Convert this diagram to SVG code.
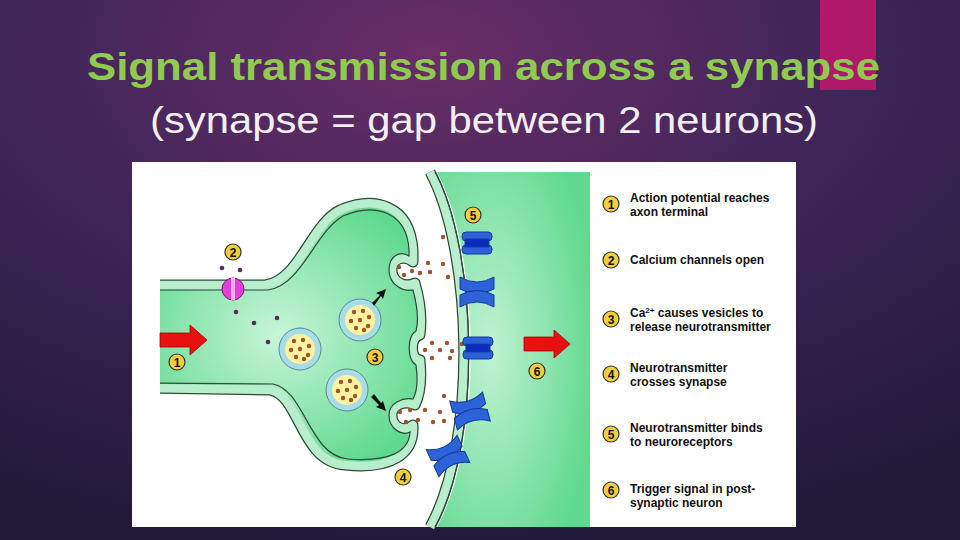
<svg xmlns="http://www.w3.org/2000/svg" width="960" height="540" viewBox="0 0 960 540">
<defs>
<radialGradient id="bg" cx="0.45" cy="0.1" r="0.9"><stop offset="0" stop-color="#6a2d68"/><stop offset="0.5" stop-color="#3d2558"/><stop offset="1" stop-color="#231a3a"/></radialGradient>
<radialGradient id="cell" cx="0.5" cy="0.5" r="0.6"><stop offset="0" stop-color="#c8f5d8"/><stop offset="1" stop-color="#5fd98f"/></radialGradient>
<radialGradient id="cell2" cx="0.35" cy="0.5" r="0.7"><stop offset="0" stop-color="#c0f2d2"/><stop offset="1" stop-color="#5fd98f"/></radialGradient>
<clipPath id="cp"><rect x="160" y="162" width="440" height="365"/></clipPath>
<g id="H"><rect x="-15" y="-11" width="30" height="9" rx="4"/><rect x="-15" y="2" width="30" height="9" rx="4"/><rect x="-12" y="-4" width="24" height="8" fill="#0a2fc0"/></g>
<g id="X"><path d="M-17,-15 Q0,-5 17,-15 L17,-3 Q0,6 -17,-3Z"/><path d="M-17,15 Q0,5 17,15 L17,3 Q0,-6 -17,3Z"/></g>
</defs>
<style>
.mb{stroke:#2d4a3a;stroke-width:11;stroke-linejoin:round}
.mi{stroke:#b8eecb;stroke-width:8.5;stroke-linejoin:round}
.rc{fill:#2d62d8;stroke:#123a9a;stroke-width:1}
.nt{fill:#a0522d}
.ca{fill:#5a2a58}
.bd circle{fill:#f2cf3a;stroke:#333;stroke-width:1.2}
.bd text{font-family:"Liberation Sans",Arial,sans-serif;font-weight:bold;font-size:12px;text-anchor:middle;fill:#111}
.lg text{font-family:"Liberation Sans",Arial,sans-serif;font-weight:bold;font-size:12px;fill:#111}
</style>
<rect width="960" height="540" fill="url(#bg)"/>
<rect x="820" y="0" width="56" height="90" fill="#b0186a"/>
<text x="87" y="80" font-family="Liberation Sans,Arial,sans-serif" font-weight="bold" font-size="38" fill="#8ecb4f" textLength="793" lengthAdjust="spacingAndGlyphs">Signal transmission across a synapse</text>
<text x="150" y="133" font-family="Liberation Sans,Arial,sans-serif" font-size="36" fill="#f0f0f0" textLength="668" lengthAdjust="spacingAndGlyphs">(synapse = gap between 2 neurons)</text>
<rect x="132" y="162" width="664" height="365" fill="#ffffff"/>
<g id="post">
<path class="mb" fill="none" d="M430,172 C472,250 478,440 430,527"/>
<path class="mi" fill="none" d="M430,172 C472,250 478,440 430,527"/>
<path d="M437,172 C479,250 485,440 437,527 L590,527 L590,172 Z" fill="url(#cell2)"/>
<path d="M435,172 C477,250 483,440 435,527" fill="none" stroke="#2d4a3a" stroke-width="1.2"/>
</g>
<g id="pre" clip-path="url(#cp)">
<path class="mb" fill="url(#cell)" d="M140,285 L265,285 C300,280 310,225 340,210 C375,195 410,205 413,250 L413,262 C405,255 392,258 392,270 C392,282 405,288 415,283 C420,300 422,320 420,335 C410,338 410,358 420,360 C422,380 420,395 415,405 C405,400 392,405 392,415 C392,428 405,432 413,425 C415,455 390,470 345,465 C300,462 300,395 270,390 L140,388 Z"/>
<path class="mi" fill="url(#cell)" d="M140,285 L265,285 C300,280 310,225 340,210 C375,195 410,205 413,250 L413,262 C405,255 392,258 392,270 C392,282 405,288 415,283 C420,300 422,320 420,335 C410,338 410,358 420,360 C422,380 420,395 415,405 C405,400 392,405 392,415 C392,428 405,432 413,425 C415,455 390,470 345,465 C300,462 300,395 270,390 L140,388 Z"/>
<path fill="url(#cell)" stroke="#2d4a3a" stroke-width="1.2" transform="translate(3,0)" d="M137,290 L265,290 C298,286 312,232 340,216 C372,202 404,212 406,250 L406,256 C397,250 386,256 386,270 C386,286 402,292 410,290 C414,305 416,320 413,331 C404,336 404,360 413,365 C415,380 414,392 410,399 C400,397 386,403 386,415 C386,430 400,436 407,432 C406,452 386,462 345,459 C306,456 302,390 270,384 L137,383 Z"/>
</g>
<g id="channel"><ellipse cx="233" cy="289" rx="11" ry="11" fill="#e040d8" stroke="#7a1a70"/><rect x="231" y="278" width="4" height="22" fill="#f8b0f0"/></g>
<g id="ca" class="ca"><circle cx="222" cy="268" r="2.3"/><circle cx="240" cy="270" r="2.3"/><circle cx="236" cy="312" r="2.3"/><circle cx="254" cy="323" r="2.3"/><circle cx="277" cy="318" r="2.3"/><circle cx="268" cy="342" r="2.3"/></g>
<g id="vesicles">
<g transform="translate(300,349)"><circle r="21" fill="#a8dde8" stroke="#5a8a9a"/><circle r="15" fill="#fff2a0"/><g class="nt"><circle cx="-6" cy="-8" r="2.2"/><circle cx="3" cy="-9" r="2.2"/><circle cx="9" cy="-3" r="2.2"/><circle cx="-9" cy="1" r="2.2"/><circle cx="0" cy="0" r="2.2"/><circle cx="8" cy="6" r="2.2"/><circle cx="-4" cy="8" r="2.2"/><circle cx="4" cy="10" r="2.2"/></g></g>
<g transform="translate(360,320)"><circle r="21" fill="#a8dde8" stroke="#5a8a9a"/><circle r="15" fill="#fff2a0"/><g class="nt"><circle cx="-6" cy="-8" r="2.2"/><circle cx="3" cy="-9" r="2.2"/><circle cx="9" cy="-3" r="2.2"/><circle cx="-9" cy="1" r="2.2"/><circle cx="0" cy="0" r="2.2"/><circle cx="8" cy="6" r="2.2"/><circle cx="-4" cy="8" r="2.2"/><circle cx="4" cy="10" r="2.2"/></g></g>
<g transform="translate(347,390)"><circle r="21" fill="#a8dde8" stroke="#5a8a9a"/><circle r="15" fill="#fff2a0"/><g class="nt"><circle cx="-6" cy="-8" r="2.2"/><circle cx="3" cy="-9" r="2.2"/><circle cx="9" cy="-3" r="2.2"/><circle cx="-9" cy="1" r="2.2"/><circle cx="0" cy="0" r="2.2"/><circle cx="8" cy="6" r="2.2"/><circle cx="-4" cy="8" r="2.2"/><circle cx="4" cy="10" r="2.2"/></g></g>
</g>
<g id="pusharrows" fill="#111">
<path d="M372,303 L380,295 L376,293 L386,289 L383,299 L381,296 L374,306Z"/>
<path d="M371,397 L379,405 L376,407 L386,411 L383,401 L381,403 L374,394Z"/>
</g>
<g id="nt" class="nt">
<circle cx="399" cy="267" r="2.2"/><circle cx="404" cy="275" r="2.2"/><circle cx="412" cy="271" r="2.2"/><circle cx="420" cy="273" r="2.2"/><circle cx="428" cy="263" r="2.2"/><circle cx="430" cy="272" r="2.2"/><circle cx="443" cy="264" r="2.2"/><circle cx="448" cy="277" r="2.2"/><circle cx="443" cy="237" r="2.2"/>
<circle cx="425" cy="350" r="2.2"/><circle cx="432" cy="343" r="2.2"/><circle cx="440" cy="350" r="2.2"/><circle cx="447" cy="343" r="2.2"/><circle cx="452" cy="351" r="2.2"/><circle cx="432" cy="358" r="2.2"/><circle cx="450" cy="358" r="2.2"/><circle cx="462" cy="344" r="2.2"/>
<circle cx="400" cy="412" r="2.2"/><circle cx="410" cy="410" r="2.2"/><circle cx="418" cy="420" r="2.2"/><circle cx="425" cy="410" r="2.2"/><circle cx="433" cy="422" r="2.2"/><circle cx="440" cy="412" r="2.2"/><circle cx="444" cy="421" r="2.2"/><circle cx="406" cy="422" r="2.2"/><circle cx="444" cy="396" r="2.2"/>
</g>
<g id="receptors" class="rc">
<use href="#H" transform="translate(477,243)"/>
<use href="#X" transform="translate(477,292)"/>
<use href="#H" transform="translate(478,348)"/>
<use href="#X" transform="translate(470,411) rotate(-15)"/>
<use href="#X" transform="translate(448,456) rotate(-25)"/>
</g>
<g id="redarrows" fill="#e81010" stroke="#a00" stroke-width="0.8">
<path d="M160,333 L190,333 L190,325 L207,340 L190,355 L190,347 L160,347Z"/>
<path d="M524,337 L554,337 L554,330 L570,344 L554,358 L554,351 L524,351Z"/>
</g>
<g class="bd" id="badges">
<g><circle cx="177" cy="362" r="8"/><text x="177" y="366.5">1</text></g>
<g><circle cx="233" cy="252" r="8"/><text x="233" y="256.5">2</text></g>
<g><circle cx="375" cy="357" r="8"/><text x="375" y="361.5">3</text></g>
<g><circle cx="403" cy="477" r="8"/><text x="403" y="481.5">4</text></g>
<g><circle cx="473" cy="215" r="8"/><text x="473" y="219.5">5</text></g>
<g><circle cx="537" cy="371" r="8"/><text x="537" y="375.5">6</text></g>
</g>
<g id="legend">
<g class="bd">
<g><circle cx="611" cy="204" r="8"/><text x="611" y="208.5">1</text></g>
<g><circle cx="611" cy="260" r="8"/><text x="611" y="264.5">2</text></g>
<g><circle cx="611" cy="319" r="8"/><text x="611" y="323.5">3</text></g>
<g><circle cx="611" cy="374" r="8"/><text x="611" y="378.5">4</text></g>
<g><circle cx="611" cy="434" r="8"/><text x="611" y="438.5">5</text></g>
<g><circle cx="611" cy="490" r="8"/><text x="611" y="494.5">6</text></g>
</g>
<g class="lg">
<text x="630" y="202">Action potential reaches</text><text x="630" y="216">axon terminal</text>
<text x="630" y="264">Calcium channels open</text>
<text x="630" y="317">Ca<tspan font-size="8" dy="-4">2+</tspan><tspan dy="4"> causes vesicles to</tspan></text><text x="630" y="331">release neurotransmitter</text>
<text x="630" y="372">Neurotransmitter</text><text x="630" y="386">crosses synapse</text>
<text x="630" y="432">Neurotransmitter binds</text><text x="630" y="446">to neuroreceptors</text>
<text x="630" y="493">Trigger signal in post-</text><text x="630" y="507">synaptic neuron</text>
</g>
</g>
</svg>
